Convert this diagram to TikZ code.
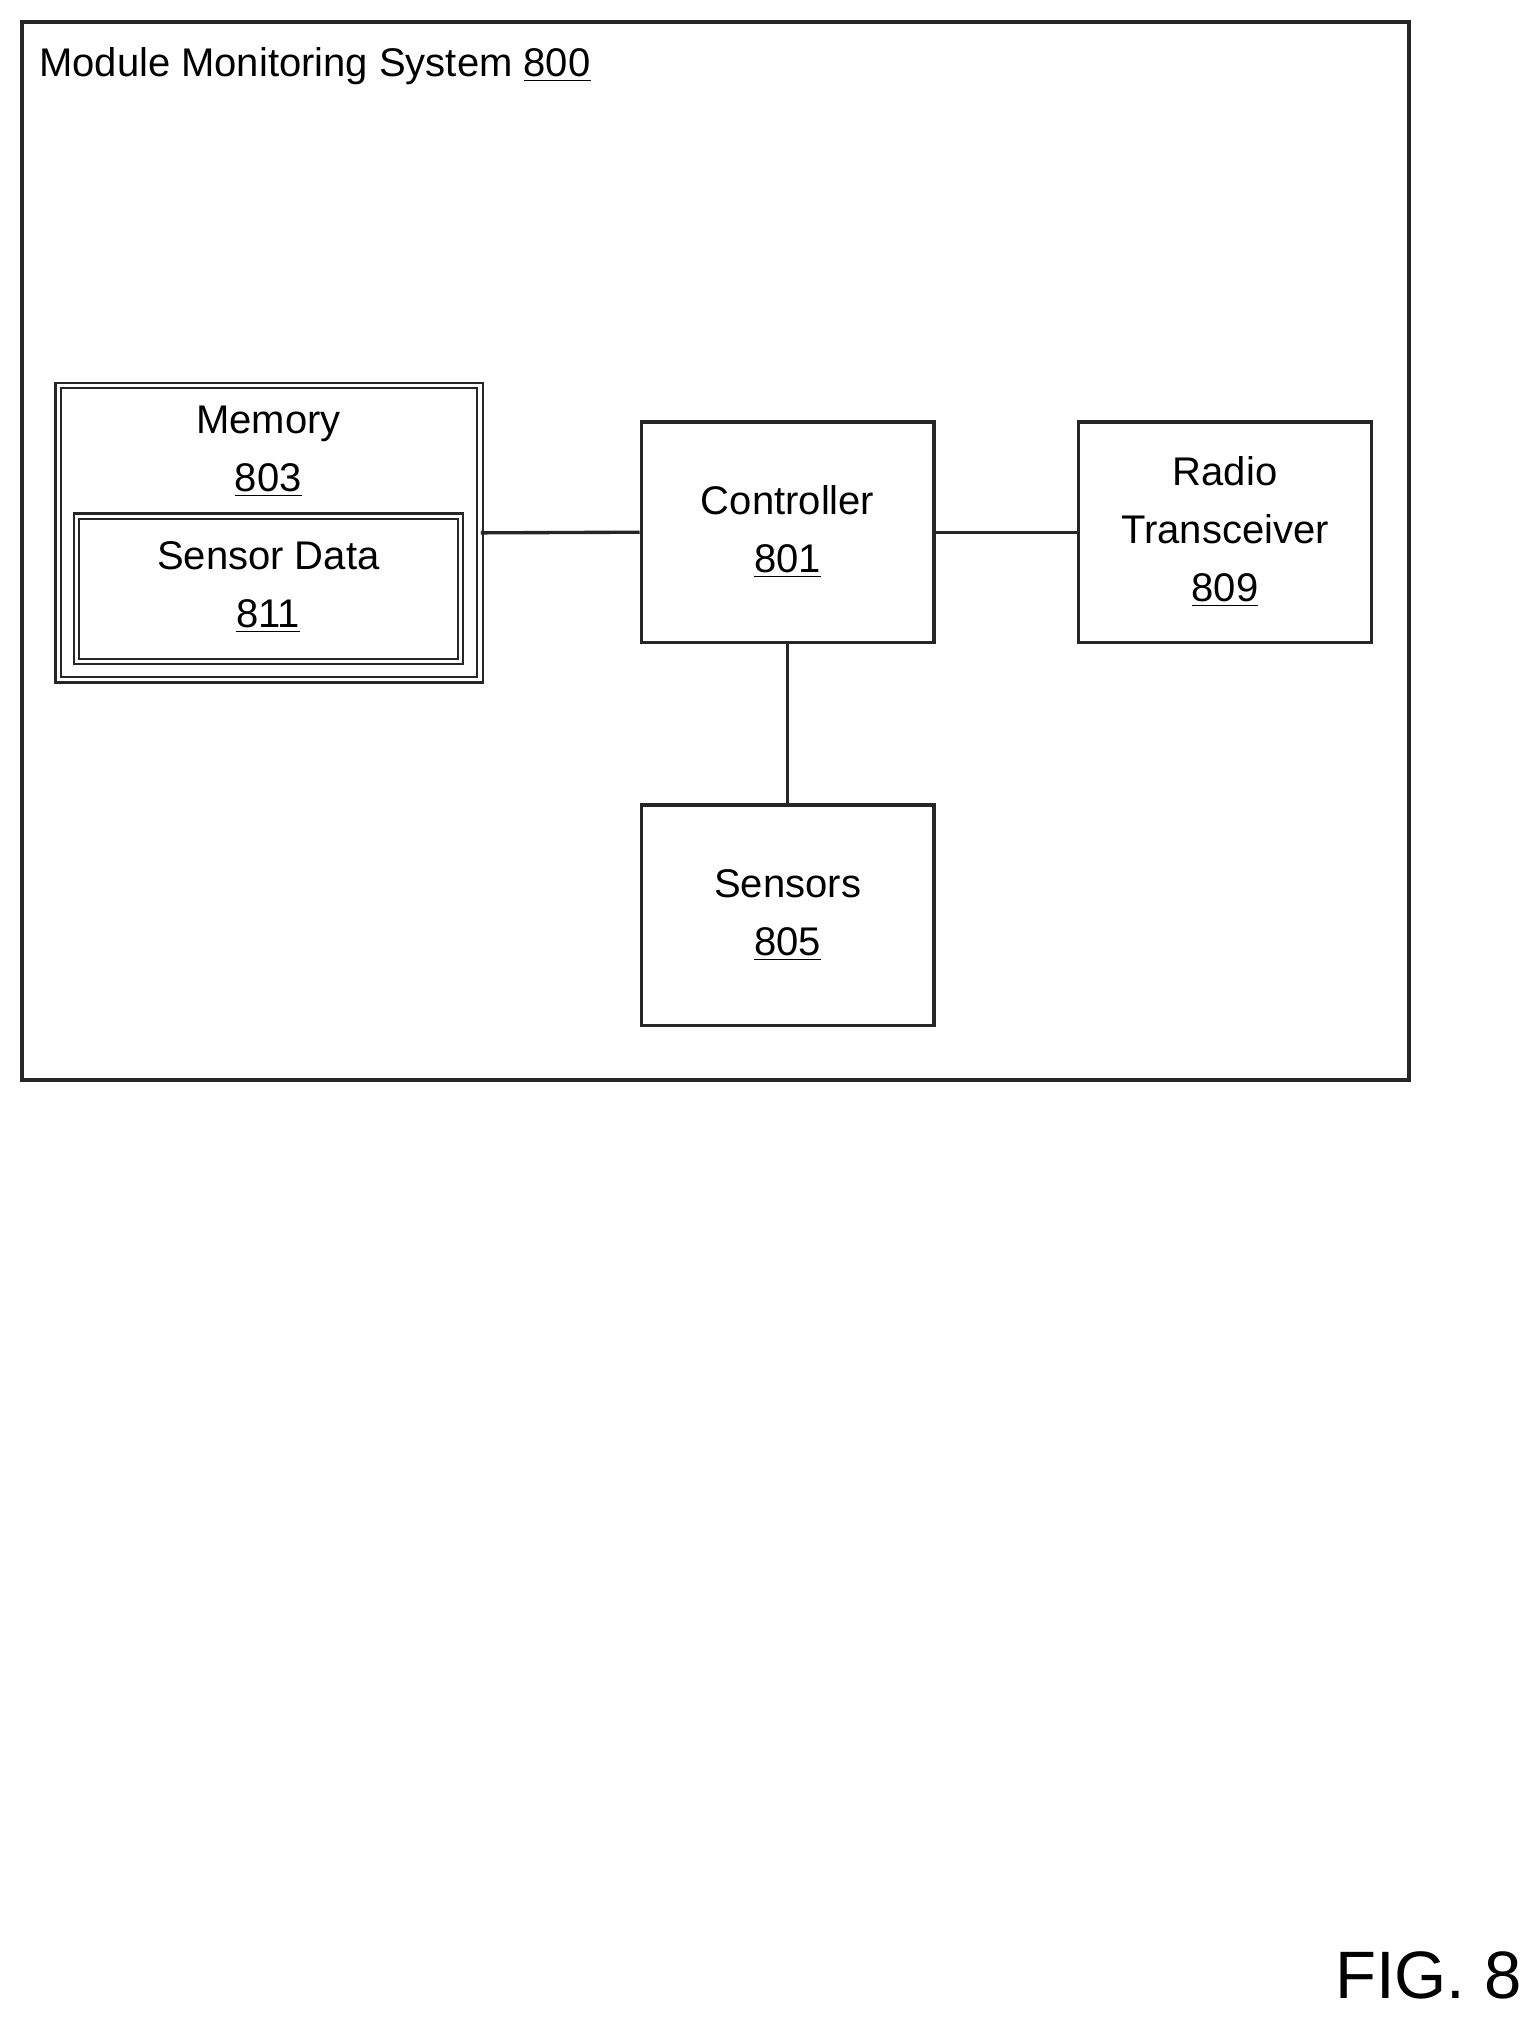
\documentclass[tikz,border=0pt]{standalone}
\usepackage{fontspec}
\setmainfont{Liberation Sans}
\begin{document}
\begin{tikzpicture}[x=0.5pt,y=-0.5pt,
  box/.style={draw=black!85,line width=1.3pt,rectangle,inner sep=0pt,align=center,font=\fontsize{15.5}{22.5}\selectfont},
  dbox/.style={draw=black!85,double,double distance=1.2pt,line width=0.8pt,rectangle,inner sep=0pt},
  txt/.style={align=center,inner sep=0pt,font=\fontsize{15.5}{22.5}\selectfont},
  conn/.style={draw=black!85,line width=1.3pt}]
\useasboundingbox (0,0) rectangle (1185,1568);
\node[box,minimum width=537.5pt,minimum height=410pt] (sys) at (554.5,427) {};
\node[txt,anchor=west] (systxt) at (30,51) {Module Monitoring System \underline{800}};
\node[dbox,minimum width=163.5pt,minimum height=114pt] (mem) at (208.5,413) {};
\node[txt] (memtxt) at (208,350) {Memory\\\underline{803}};
\node[dbox,minimum width=149pt,minimum height=56.5pt] (sd) at (208,456.5) {};
\node[txt] (sdtxt) at (208,455) {Sensor Data\\\underline{811}};
\node[box,minimum width=113.5pt,minimum height=85.5pt] (ctl) at (610.5,412.5) {Controller\\\underline{801}};
\node[box,minimum width=113.5pt,minimum height=85.5pt] (rad) at (949.5,412.5) {Radio\\Transceiver\\\underline{809}};
\node[box,minimum width=113.5pt,minimum height=85.5pt] (sen) at (610.5,709.5) {Sensors\\\underline{805}};
\draw[conn] (mem.east) -- (ctl.west);
\draw[conn] (ctl.east) -- (rad.west);
\draw[conn] (ctl.south) -- (sen.north);
\node[txt,font=\fontsize{26}{30}\selectfont] (fig) at (1107,1531) {FIG. 8};
\end{tikzpicture}
\end{document}
